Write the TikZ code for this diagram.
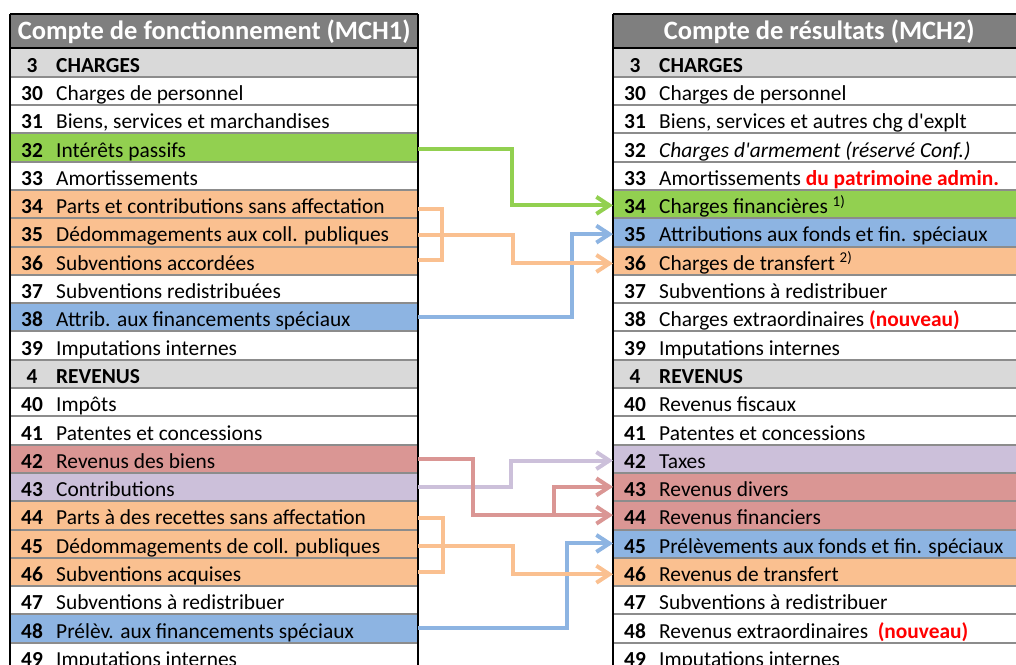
\documentclass[tikz,border=0pt]{standalone}
\usepackage{fontspec}
\setmainfont{Carlito}
\usetikzlibrary{arrows.meta}
\definecolor{cgreen}{HTML}{92D050}
\definecolor{corange}{HTML}{FAC090}
\definecolor{cblue}{HTML}{8DB4E2}
\definecolor{cred}{HTML}{DA9694}
\definecolor{cpurple}{HTML}{CCC0DA}
\definecolor{clgray}{HTML}{D9D9D9}
\definecolor{chead}{HTML}{7F7F7F}
\definecolor{csep}{HTML}{8C8C8C}
\definecolor{cnew}{HTML}{FF0000}
\newcommand{\trow}[7]{%
  \node[rowbox, fill=#5, minimum width=#3pt] (#1) at (#2, {48+28.3*#4}) {};
  \node[numtxt] (#1n) at ([xshift=22pt,yshift=4.6pt]#1.south west) {#6};
  \node[rowtxt] (#1t) at ([xshift=46pt,yshift=4.6pt]#1.south west) {#7};
}
\newcommand{\redb}[1]{\textcolor{cnew}{\bfseries #1}}
\begin{document}
\begin{tikzpicture}[x=1pt,y=-1pt,
  rowbox/.style={rectangle, inner sep=0pt, minimum height=28.3pt, draw=none, anchor=north west},
  headbox/.style={rectangle, inner sep=0pt, minimum height=34pt, draw=none, fill=chead, anchor=north west},
  headtxt/.style={anchor=base, inner sep=0pt, text=white, font=\fontsize{26.5}{30}\selectfont\bfseries},
  numtxt/.style={anchor=base, inner sep=0pt, font=\fontsize{21.4}{25}\selectfont\bfseries},
  rowtxt/.style={anchor=base west, inner sep=0pt, font=\fontsize{21.4}{25}\selectfont},
  sepline/.style={line width=2pt, draw=csep},
  border/.style={line width=2pt, draw=black},
  link/.style={line width=4pt},
  conn/.style={line width=4pt, -{Straight Barb[length=13pt,width=17pt]}},
]
\useasboundingbox (0,0) rectangle (1016,664);
\clip (0,0) rectangle (1016,664);
% left table
\node[headbox, minimum width=408pt] (LH) at (10,14) {};
\node[headtxt] (LHt) at ([yshift=8.7pt]LH.south) {Compte de fonctionnement (MCH1)};
\trow{L3}{10}{408}{0}{clgray}{3}{\bfseries CHARGES}
\trow{L30}{10}{408}{1}{white}{30}{Charges de personnel}
\trow{L31}{10}{408}{2}{white}{31}{Biens, services et marchandises}
\trow{L32}{10}{408}{3}{cgreen}{32}{Intérêts passifs}
\trow{L33}{10}{408}{4}{white}{33}{Amortissements}
\trow{L34}{10}{408}{5}{corange}{34}{Parts et contributions sans affectation}
\trow{L35}{10}{408}{6}{corange}{35}{Dédommagements aux coll. publiques}
\trow{L36}{10}{408}{7}{corange}{36}{Subventions accordées}
\trow{L37}{10}{408}{8}{white}{37}{Subventions redistribuées}
\trow{L38}{10}{408}{9}{cblue}{38}{Attrib. aux financements spéciaux}
\trow{L39}{10}{408}{10}{white}{39}{Imputations internes}
\trow{L4}{10}{408}{11}{clgray}{4}{\bfseries REVENUS}
\trow{L40}{10}{408}{12}{white}{40}{Impôts}
\trow{L41}{10}{408}{13}{white}{41}{Patentes et concessions}
\trow{L42}{10}{408}{14}{cred}{42}{Revenus des biens}
\trow{L43}{10}{408}{15}{cpurple}{43}{Contributions}
\trow{L44}{10}{408}{16}{corange}{44}{Parts à des recettes sans affectation}
\trow{L45}{10}{408}{17}{corange}{45}{Dédommagements de coll. publiques}
\trow{L46}{10}{408}{18}{corange}{46}{Subventions acquises}
\trow{L47}{10}{408}{19}{white}{47}{Subventions à redistribuer}
\trow{L48}{10}{408}{20}{cblue}{48}{Prélèv. aux financements spéciaux}
\trow{L49}{10}{408}{21}{white}{49}{Imputations internes}
% right table
\node[headbox, minimum width=412pt] (RH) at (613,14) {};
\node[headtxt] (RHt) at ([yshift=8.7pt]RH.south) {Compte de résultats (MCH2)};
\trow{R3}{613}{412}{0}{clgray}{3}{\bfseries CHARGES}
\trow{R30}{613}{412}{1}{white}{30}{Charges de personnel}
\trow{R31}{613}{412}{2}{white}{31}{Biens, services et autres chg d\textquotesingle explt}
\trow{R32}{613}{412}{3}{white}{32}{\itshape Charges d\textquotesingle armement (réservé Conf.)}
\trow{R33}{613}{412}{4}{white}{33}{Amortissements \redb{du patrimoine admin.}}
\trow{R34}{613}{412}{5}{cgreen}{34}{Charges financières \textsuperscript{1)}}
\trow{R35}{613}{412}{6}{cblue}{35}{Attributions aux fonds et fin. spéciaux}
\trow{R36}{613}{412}{7}{corange}{36}{Charges de transfert \textsuperscript{2)}}
\trow{R37}{613}{412}{8}{white}{37}{Subventions à redistribuer}
\trow{R38}{613}{412}{9}{white}{38}{Charges extraordinaires \redb{(nouveau)}}
\trow{R39}{613}{412}{10}{white}{39}{Imputations internes}
\trow{R4}{613}{412}{11}{clgray}{4}{\bfseries REVENUS}
\trow{R40}{613}{412}{12}{white}{40}{Revenus fiscaux}
\trow{R41}{613}{412}{13}{white}{41}{Patentes et concessions}
\trow{R42}{613}{412}{14}{cpurple}{42}{Taxes}
\trow{R43}{613}{412}{15}{cred}{43}{Revenus divers}
\trow{R44}{613}{412}{16}{cred}{44}{Revenus financiers}
\trow{R45}{613}{412}{17}{cblue}{45}{Prélèvements aux fonds et fin. spéciaux}
\trow{R46}{613}{412}{18}{corange}{46}{Revenus de transfert}
\trow{R47}{613}{412}{19}{white}{47}{Subventions à redistribuer}
\trow{R48}{613}{412}{20}{white}{48}{Revenus extraordinaires \ \redb{(nouveau)}}
\trow{R49}{613}{412}{21}{white}{49}{Imputations internes}
% separators
\foreach \n in {L3,L30,L31,L32,L33,L34,L35,L36,L37,L38,L39,L4,L40,L41,L42,L43,L44,L45,L46,L47,L48,
                R3,R30,R31,R32,R33,R34,R35,R36,R37,R38,R39,R4,R40,R41,R42,R43,R44,R45,R46,R47,R48}
  \draw[sepline] (\n.south west) -- (\n.south east);
% borders
\draw[border] (LH.north west) -- (LH.north east);
\draw[border] (LH.south west) -- (LH.south east);
\draw[border] (RH.north west) -- (RH.north east);
\draw[border] (RH.south west) -- (RH.south east);
\draw[border] (LH.north west) -- (L49.south west);
\draw[border] (LH.north east) -- (L49.south east);
\draw[border] (RH.north west) -- (R49.south west);
% connectors
\draw[conn, cgreen] ([yshift=-2pt]L32.east) -- ++(94,0) |- ([yshift=-1.5pt]R34.west);
\draw[conn, cblue] (L38.east) -- ++(154,0) |- ([yshift=-2pt]R35.west);
\draw[link, corange] ([yshift=-5pt]L34.east) -- ++(24,0) |- (L36.east);
\draw[conn, corange] ([yshift=-3pt]L35.east) -- ++(95,0) |- ([yshift=-3pt]R36.west);
\draw[conn, cpurple] (L43.east) -- ++(93,0) |- ([yshift=-2pt]R42.west);
\draw[conn, cred] (L42.east) -- ++(55,0) |- (R44.west);
\coordinate (rb) at (554,0);
\draw[conn, cred] (rb |- R44.west) |- (R43.west);
\draw[conn, cblue] (L48.east) -- ++(149,0) |- (R45.west);
\draw[link, corange] ([yshift=-3pt]L44.east) -- ++(25,0) |- (L46.east);
\draw[conn, corange] ([yshift=-3pt]L45.east) -- ++(95,0) |- ([yshift=-2.5pt]R46.west);
\end{tikzpicture}
\end{document}
